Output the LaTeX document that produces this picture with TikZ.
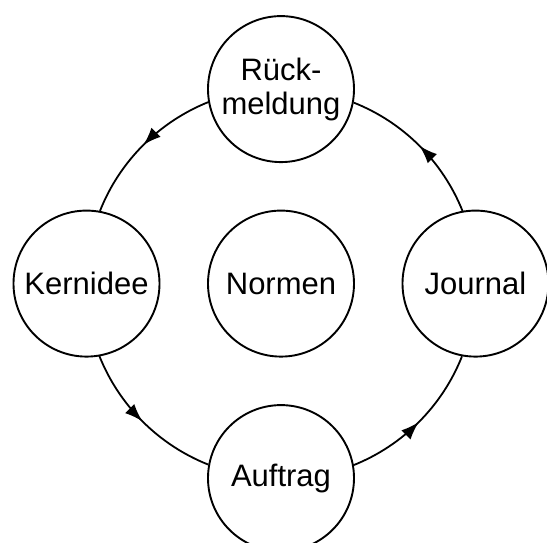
\documentclass[tikz,border=0pt]{standalone}
\usepackage{fontspec}
\setmainfont{Liberation Sans}
\usetikzlibrary{arrows.meta,decorations.markings}
\begin{document}
\begin{tikzpicture}[x=1pt,y=1pt,
  stage/.style={circle,draw,line width=1.9pt,minimum size=146pt,inner sep=0pt,outer sep=0pt,
    font=\fontsize{31}{34}\selectfont,align=center},
  flow/.style={line width=1.8pt,postaction={decorate},
    decoration={markings,mark=at position 0.5 with {\arrow{Latex[length=18pt,width=13pt]}}}}]
\clip (0,0) rectangle (547,542);
\useasboundingbox (0,0) rectangle (547,542);
\coordinate (ctr) at (281,258.4);
\node[stage] (top) at (281,452.9) {Rück-\\meldung};
\node[stage] (left) at (86.5,258.4) {Kernidee};
\node[stage] (mid) at (281,258.4) {Normen};
\node[stage] (right) at (475.5,258.4) {Journal};
\node[stage] (bot) at (281,63.9) {Auftrag};
\draw[flow] (top.190.82) arc[start angle=111.63,end angle=158.37,radius=194.5];
\draw[flow] (left.280.82) arc[start angle=201.63,end angle=248.37,radius=194.5];
\draw[flow] (bot.10.82) arc[start angle=291.63,end angle=338.37,radius=194.5];
\draw[flow] (right.100.82) arc[start angle=21.63,end angle=68.37,radius=194.5];
\end{tikzpicture}
\end{document}
